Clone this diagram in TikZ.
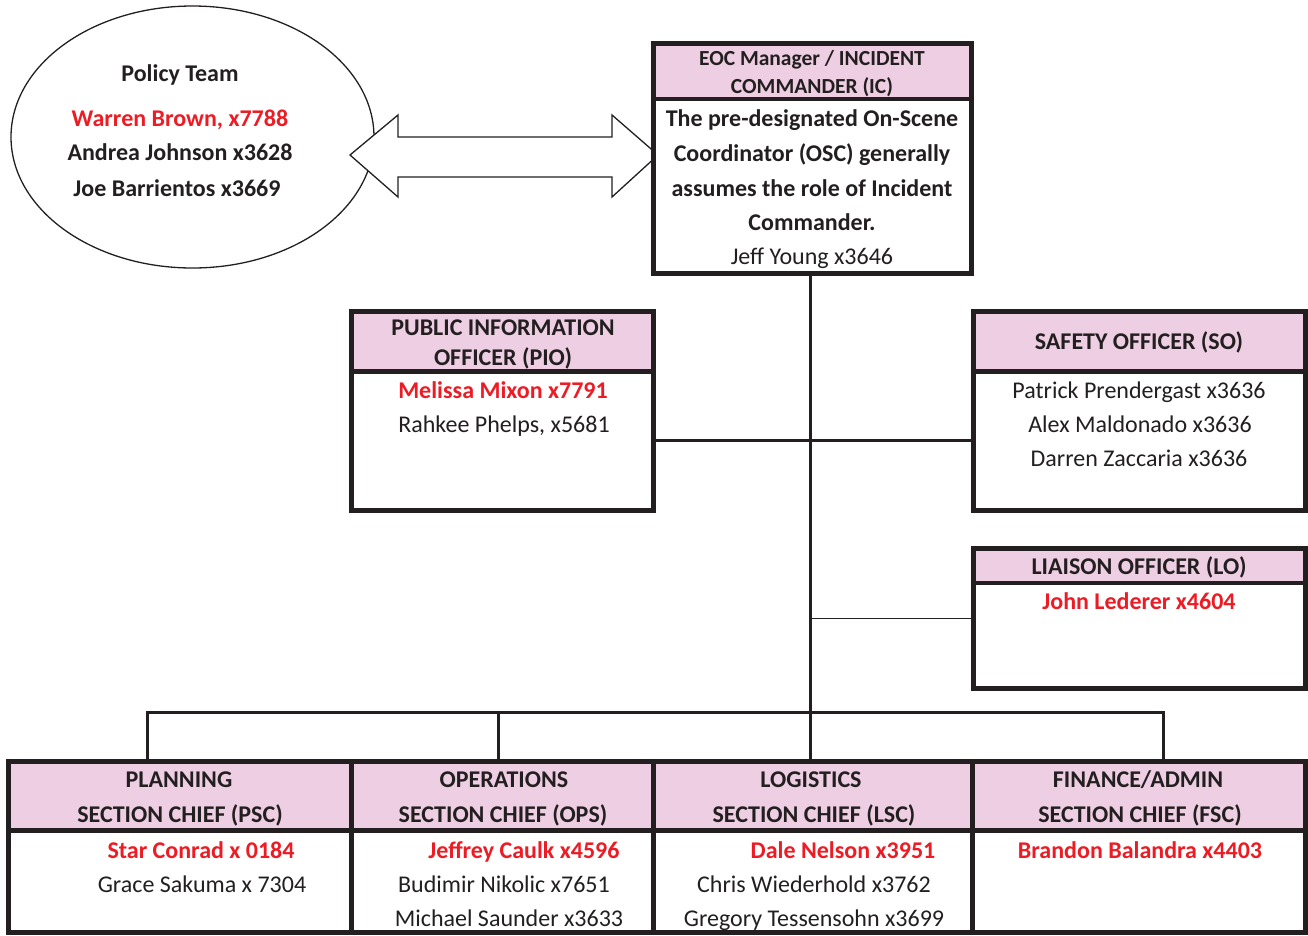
\documentclass[tikz,border=0pt]{standalone}
\usepackage{fontspec}
\setmainfont{Carlito}
\usetikzlibrary{shapes.geometric}
\definecolor{pinkhd}{RGB}{238,206,226}
\definecolor{redtx}{RGB}{237,28,36}
\definecolor{ink}{RGB}{35,31,32}
\tikzset{
  frame/.style={draw=ink, line width=4.5pt, fill=white, inner sep=0pt, outer sep=0pt, anchor=north west, rectangle},
  headbox/.style={frame, fill=pinkhd},
  t/.style={text=ink, font=\fontsize{24}{28}\selectfont, inner sep=0pt, text height=15.5pt, text depth=0pt, yshift=-1pt},
  tb/.style={t, font=\bfseries\fontsize{24}{28}\selectfont},
  th/.style={text=ink, font=\bfseries\fontsize{21.5}{26}\selectfont, inner sep=0pt, text height=14pt, text depth=0pt},
  tr/.style={tb, text=redtx},
  conn/.style={draw=ink, line width=3pt},
  thinconn/.style={draw=ink, line width=1.3pt},
}
\begin{document}
\begin{tikzpicture}[x=1pt,y=-1pt]
\useasboundingbox (0,0) rectangle (1308,935);

% Policy team ellipse
\node[draw=ink, ellipse, line width=1.3pt, minimum width=363pt, minimum height=262pt, inner sep=0pt] (policy) at (192.5,137) {};
\node[tb] (p1) at (180,73) {Policy Team};
\node[tr] (p2) at (180,118) {Warren Brown, x7788};
\node[tb] (p3) at (180,152) {Andrea Johnson x3628};
\node[tb] (p4) at (177,188) {Joe Barrientos x3669};

% double arrow
\coordinate (arL) at (350,155);
\coordinate (arR) at (658,155);
\draw[ink, line width=1.3pt, fill=white, line join=miter]
  (arL) -- ++(48,-40) -- ++(0,22) -- ++(214,0) -- ++(0,-22) -- (arR)
  -- ++(-46,42) -- ++(0,-20) -- ++(-214,0) -- ++(0,20) -- cycle;

% EOC box
\node[frame, minimum width=318pt, minimum height=230pt] (eoc) at (653.5,43.5) {};
\node[headbox, minimum width=318pt, minimum height=55.5pt] (eochd) at (653.5,43.5) {};
\node[th] (e1) at (812,58) {EOC Manager / INCIDENT};
\node[th] (e2) at (812,86.5) {COMMANDER (IC)};
\node[tb] (e3) at (812,118) {The pre-designated On-Scene};
\node[tb] (e4) at (812,153) {Coordinator (OSC) generally};
\node[tb] (e5) at (812,188) {assumes the role of Incident};
\node[tb] (e6) at (812,222) {Commander.};
\node[t] (e7) at (812,256) {Jeff Young x3646};

% PIO box
\node[frame, minimum width=302pt, minimum height=199pt] (pio) at (351.5,311.5) {};
\node[headbox, minimum width=302pt, minimum height=60pt] (piohd) at (351.5,311.5) {};
\node[tb] (pi1) at (503,327) {PUBLIC INFORMATION};
\node[tb] (pi2) at (503,357) {OFFICER (PIO)};
\node[tr] (pi3) at (503,390) {Melissa Mixon x7791};
\node[t] (pi4) at (504,424) {Rahkee Phelps, x5681};

% Safety officer
\node[frame, minimum width=332pt, minimum height=199pt] (so) at (973.5,311.5) {};
\node[headbox, minimum width=332pt, minimum height=60pt] (sohd) at (973.5,311.5) {};
\node[tb] (s1) at (1139,341) {SAFETY OFFICER (SO)};
\node[t] (s2) at (1139,390) {Patrick Prendergast x3636};
\node[t] (s3) at (1140,424) {Alex Maldonado x3636};
\node[t] (s4) at (1139,458) {Darren Zaccaria x3636};

% Liaison officer
\node[frame, minimum width=332pt, minimum height=140pt] (lo) at (973.5,548.5) {};
\node[headbox, minimum width=332pt, minimum height=34.5pt] (lohd) at (973.5,548.5) {};
\node[tb] (l1) at (1139,566) {LIAISON OFFICER (LO)};
\node[tr] (l2) at (1139,601) {John Lederer x4604};

% Section chiefs
\node[frame, minimum width=343pt, minimum height=171pt] (psc) at (8.5,761.5) {};
\node[headbox, minimum width=343pt, minimum height=69pt] (pschd) at (8.5,761.5) {};
\node[frame, minimum width=302pt, minimum height=171pt] (ops) at (351.5,761.5) {};
\node[headbox, minimum width=302pt, minimum height=69pt] (opshd) at (351.5,761.5) {};
\node[frame, minimum width=319pt, minimum height=171pt] (lsc) at (653.5,761.5) {};
\node[headbox, minimum width=319pt, minimum height=69pt] (lschd) at (653.5,761.5) {};
\node[frame, minimum width=333pt, minimum height=171pt] (fsc) at (972.5,761.5) {};
\node[headbox, minimum width=333pt, minimum height=69pt] (fschd) at (972.5,761.5) {};

\node[tb] (c11) at (179,779) {PLANNING};
\node[tb] (c12) at (180,814) {SECTION CHIEF (PSC)};
\node[tr] (c13) at (201,850) {Star Conrad x 0184};
\node[t]  (c14) at (202,884) {Grace Sakuma x 7304};

\node[tb] (c21) at (504,779) {OPERATIONS};
\node[tb] (c22) at (503,814) {SECTION CHIEF (OPS)};
\node[tr] (c23) at (524,850) {Jeffrey Caulk x4596};
\node[t]  (c24) at (504,884) {Budimir Nikolic x7651};
\node[t]  (c25) at (509,918) {Michael Saunder x3633};

\node[tb] (c31) at (811,779) {LOGISTICS};
\node[tb] (c32) at (814,814) {SECTION CHIEF (LSC)};
\node[tr] (c33) at (843,850) {Dale Nelson x3951};
\node[t]  (c34) at (814,884) {Chris Wiederhold x3762};
\node[t]  (c35) at (814,918) {Gregory Tessensohn x3699};

\node[tb] (c41) at (1138,779) {FINANCE/ADMIN};
\node[tb] (c42) at (1140,814) {SECTION CHIEF (FSC)};
\node[tr] (c43) at (1140,850) {Brandon Balandra x4403};

% connectors
\coordinate (spine) at (810,440);
\coordinate (b1) at (147,712);
\coordinate (b2) at (498,712);
\coordinate (b4) at (1163,712);
\draw[conn] (eoc.south -| spine) -- (spine |- lsc.north);
\draw[conn] (pio.east |- spine) -- (so.west |- spine);
\draw[thinconn] (lo.west) -- (lo.west -| spine);
\draw[conn] (b1 |- psc.north) -- (b1) -- (b4) -- (b4 |- fsc.north);
\draw[conn] (b2) -- (b2 |- ops.north);
\end{tikzpicture}
\end{document}
